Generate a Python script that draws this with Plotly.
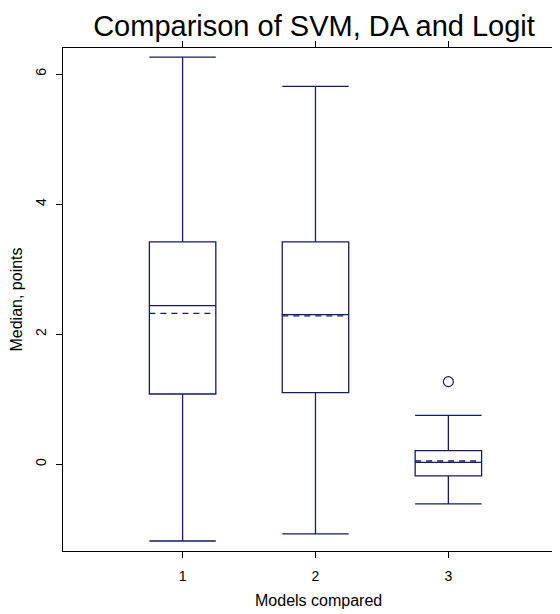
import plotly.graph_objects as go

categories = [1, 2, 3]
q1 = [1.08, 1.10, -0.18]
medians = [2.44, 2.30, 0.03]
q3 = [3.42, 3.42, 0.21]
lower_fence = [-1.18, -1.07, -0.61]
upper_fence = [6.26, 5.81, 0.75]
means = [2.32, 2.28, 0.05]
outlier_x = [3]
outlier_y = [1.27]
x_ticks = [1, 2, 3]
y_ticks = [0, 2, 4, 6]

NAVY = "#1a1a66"
FONT = "Liberation Sans, Arial, Helvetica, sans-serif"
BOX_W = 0.5

fig = go.Figure()
fig.add_trace(go.Box(
    x=categories, q1=q1, median=medians, q3=q3,
    lowerfence=lower_fence, upperfence=upper_fence,
    boxpoints=False, width=BOX_W, whiskerwidth=1,
    line=dict(color=NAVY, width=1.3), fillcolor="rgba(0,0,0,0)",
    showlegend=False, hoverinfo="skip",
))
# mean lines (dashed), spanning each box
for c, m in zip(categories, means):
    fig.add_trace(go.Scatter(
        x=[c - BOX_W / 2, c + BOX_W / 2], y=[m, m], mode="lines",
        line=dict(color=NAVY, width=1.3, dash="6px,5px"),
        showlegend=False, hoverinfo="skip",
    ))
fig.add_trace(go.Scatter(
    x=outlier_x, y=outlier_y, mode="markers",
    marker=dict(symbol="circle-open", size=10, color=NAVY, line=dict(width=1.2, color=NAVY)),
    showlegend=False, hoverinfo="skip",
))

W, H = 552, 606
fig.update_layout(
    width=W, height=H,
    margin=dict(l=55, r=0, t=40, b=63),
    paper_bgcolor="white", plot_bgcolor="white",
    font=dict(family=FONT, color="black"),
    title=dict(text="Comparison of SVM, DA and Logit", x=306 / W, xanchor="center",
               y=1 - 17.5 / H, yanchor="middle", font=dict(size=29, color="black")),
    xaxis=dict(range=[0.1, 3.84], tickvals=x_ticks, ticktext=[str(v) for v in x_ticks],
               showline=True, linecolor="black", linewidth=1.3, mirror="ticks",
               ticks="outside", ticklen=6, tickcolor="black", tickwidth=1,
               ticklabelstandoff=6,
               showgrid=False, zeroline=False, tickfont=dict(size=14)),
    yaxis=dict(range=[-1.334, 6.40], tickvals=y_ticks, ticktext=[str(v) for v in y_ticks],
               showline=True, linecolor="black", linewidth=1.3, mirror=False,
               ticks="outside", ticklen=6, tickcolor="black", tickwidth=1, tickangle=-90,
               ticklabelstandoff=4,
               showgrid=False, zeroline=False, tickfont=dict(size=14),
               title=dict(text="Median, points", font=dict(size=16), standoff=10)),
    annotations=[dict(text="Models compared", x=2, xref="x", y=0, yref="paper",
                      yanchor="middle", yshift=-49, xshift=3, showarrow=False,
                      font=dict(size=16, color="black"))],
)

fig.write_html("out.html")
